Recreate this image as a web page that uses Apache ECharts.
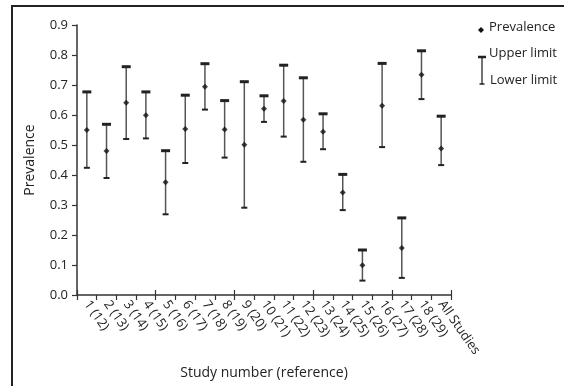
<!DOCTYPE html>
<html>
<head>
<meta charset="utf-8">
<script src="https://cdn.jsdelivr.net/npm/echarts@6/dist/echarts.min.js"></script>
<style>
  html, body { margin: 0; padding: 0; background: #fff; }
  #chart { width: 564px; height: 386px; }
  #frame {
    position: absolute; left: 11px; top: 5px; width: 553px; height: 381px;
    border-top: 2px solid #222; border-left: 2px solid #222; pointer-events: none;
  }
</style>
</head>
<body>
<div id="chart"></div>
<div id="frame"></div>
<script>
const studies = ['1 (12)', '2 (13)', '3 (14)', '4 (15)', '5 (16)', '6 (17)', '7 (18)', '8 (19)', '9 (20)', '10 (21)',
  '11 (22)', '12 (23)', '13 (24)', '14 (25)', '15 (26)', '16 (27)', '17 (28)', '18 (29)', 'All Studies']
const prevalence = [0.55, 0.48, 0.641, 0.599, 0.376, 0.553, 0.694, 0.552, 0.501, 0.621,
  0.647, 0.584, 0.544, 0.342, 0.099, 0.631, 0.157, 0.734, 0.488]
const upperLimit = [0.677, 0.569, 0.761, 0.677, 0.481, 0.666, 0.771, 0.648, 0.711, 0.664,
  0.766, 0.724, 0.604, 0.402, 0.15, 0.772, 0.257, 0.814, 0.596]
const lowerLimit = [0.424, 0.39, 0.52, 0.522, 0.269, 0.44, 0.618, 0.458, 0.291, 0.577,
  0.528, 0.444, 0.486, 0.283, 0.048, 0.493, 0.057, 0.653, 0.433]
const yTicks = [0, 0.9, 0.1] // min, max, step

const font = 'Open Sans'
const ink = '#222'

const chart = echarts.init(document.getElementById('chart'), null, { renderer: 'canvas' })

const option = {
  backgroundColor: '#fff',
  animation: false,
  textStyle: { fontFamily: font, color: ink },
  grid: { left: 77, right: 113, top: 25, bottom: 91 },
  xAxis: [{
    type: 'category',
    data: studies,
    boundaryGap: true,
    name: 'Study number (reference)',
    nameLocation: 'middle',
    nameGap: 71,
    nameTextStyle: { fontFamily: font, fontSize: 14, color: ink },
    axisLine: { lineStyle: { color: '#333', width: 1.5 } },
    axisTick: { show: true, length: 5, lineStyle: { color: '#333', width: 1.2 } },
    axisLabel: { interval: 0, rotate: -55, margin: 7, fontFamily: font, fontSize: 13, color: ink }
  }, {
    type: 'category',
    data: studies,
    position: 'bottom',
    boundaryGap: true,
    axisLine: { show: false },
    axisTick: { show: true, inside: true, length: 5, lineStyle: { color: '#333', width: 1.2 } },
    axisLabel: { show: false }
  }],
  yAxis: {
    type: 'value',
    min: yTicks[0],
    max: yTicks[1],
    interval: yTicks[2],
    name: 'Prevalence',
    nameLocation: 'middle',
    nameGap: 40,
    nameTextStyle: { fontFamily: font, fontSize: 14, color: ink },
    splitLine: { show: false },
    axisLine: { show: true, lineStyle: { color: '#333', width: 1.5 } },
    axisTick: { show: true, length: 5, lineStyle: { color: '#333', width: 1.2 } },
    axisLabel: { margin: 9, fontFamily: font, fontSize: 13, color: ink, formatter: v => v.toFixed(1) }
  },
  series: [{
    name: 'Limits',
    type: 'custom',
    data: studies.map((s, i) => [i, upperLimit[i], lowerLimit[i]]),
    renderItem: (params, api) => {
      const x = api.value(0)
      const hi = api.coord([x, api.value(1)])
      const lo = api.coord([x, api.value(2)])
      return {
        type: 'group',
        children: [
          { type: 'line', shape: { x1: hi[0], y1: hi[1], x2: lo[0], y2: lo[1] }, style: { stroke: '#555', lineWidth: 1.5 } },
          { type: 'line', shape: { x1: hi[0] - 4.5, y1: hi[1], x2: hi[0] + 4.5, y2: hi[1] }, style: { stroke: ink, lineWidth: 3 } },
          { type: 'line', shape: { x1: lo[0] - 3, y1: lo[1], x2: lo[0] + 3, y2: lo[1] }, style: { stroke: ink, lineWidth: 2 } }
        ]
      }
    },
    z: 2
  }, {
    name: 'Prevalence',
    type: 'scatter',
    data: prevalence.map((v, i) => [i, v]),
    symbol: 'diamond',
    symbolSize: 6,
    itemStyle: { color: '#111' },
    z: 3
  }],
  graphic: [
    { type: 'polygon', shape: { points: [[481, 27], [484, 30], [481, 33], [478, 30]] }, style: { fill: '#111' } },
    { type: 'text', x: 489, y: 21, style: { text: 'Prevalence', font: '13px "Open Sans"', fill: ink } },
    { type: 'line', shape: { x1: 482, y1: 57, x2: 482, y2: 84 }, style: { stroke: '#444', lineWidth: 1.5 } },
    { type: 'line', shape: { x1: 478, y1: 57, x2: 486, y2: 57 }, style: { stroke: ink, lineWidth: 2.5 } },
    { type: 'line', shape: { x1: 479.5, y1: 84, x2: 484.5, y2: 84 }, style: { stroke: ink, lineWidth: 1.5 } },
    { type: 'text', x: 489, y: 47, style: { text: 'Upper limit', font: '13px "Open Sans"', fill: ink } },
    { type: 'text', x: 490, y: 74, style: { text: 'Lower limit', font: '13px "Open Sans"', fill: ink } }
  ]
}

chart.setOption(option)
</script>
</body>
</html>
